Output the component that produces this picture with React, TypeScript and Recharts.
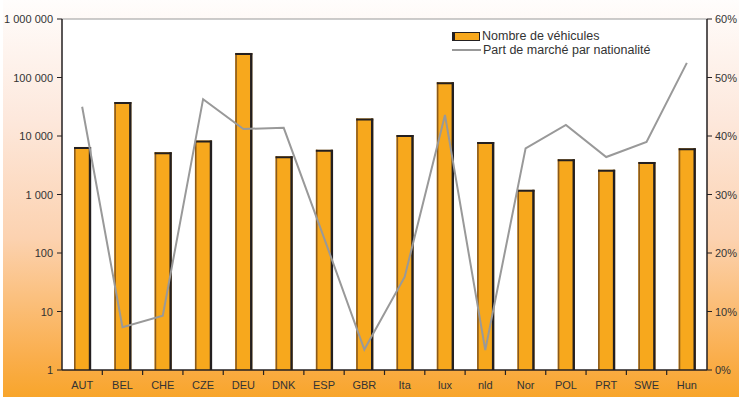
import { ComposedChart, Bar, Line, XAxis, YAxis, CartesianGrid, ReferenceLine } from "recharts";

const countries = ["AUT", "BEL", "CHE", "CZE", "DEU", "DNK", "ESP", "GBR", "Ita", "lux", "nld", "Nor", "POL", "PRT", "SWE", "Hun"];
const vehicles = [6500, 38000, 5300, 8400, 263000, 4500, 5800, 20000, 10400, 83000, 7900, 1200, 4000, 2650, 3600, 6200];
const marketShare = [45, 7.3, 9.3, 46.3, 41.2, 41.4, 22.6, 3.5, 15.9, 43.6, 3.4, 37.9, 41.9, 36.4, 39, 52.5];

const leftTicks = [1, 10, 100, 1000, 10000, 100000, 1000000];
const rightTicks = [0, 10, 20, 30, 40, 50, 60];

const data = countries.map((c, i) => ({ name: c, vehicles: vehicles[i], share: marketShare[i] }));

const W = 739;
const H = 405;
const LEFT = 62;
const RIGHT = 32;
const band = (W - LEFT - RIGHT) / countries.length;
const font = "'Liberation Sans', Arial, sans-serif";
const ink = "#231F20";

const fmtNum = (v: number) => String(v).replace(/\B(?=(\d{3})+(?!\d))/g, " ");

const BarShape = (props: any) => {
    const { x, y, width, height } = props;
    if (!height || height <= 0) return null;
    return (
        <g>
            <rect x={x} y={y} width={width} height={height} fill="#F7A81D" />
            <line x1={x + 0.8} y1={y} x2={x + 0.8} y2={y + height} stroke="#8A5A1C" strokeWidth={1.6} />
            <line x1={x} y1={y + 1} x2={x + width} y2={y + 1} stroke={ink} strokeWidth={2} />
            <line x1={x + width - 1} y1={y} x2={x + width - 1} y2={y + height} stroke={ink} strokeWidth={2.4} />
        </g>
    );
};

const CatTick = (props: any) => {
    const { x, y, payload, index } = props;
    const left = x - band / 2;
    return (
        <g>
            {index > 0 && <line x1={left} y1={y - 8} x2={left} y2={y - 3} stroke={ink} strokeWidth={1.2} />}
            <text x={x} y={y + 11} textAnchor="middle" fontSize={11} fill="#333" fontFamily={font}>{payload.value}</text>
        </g>
    );
};

const LeftTick = (props: any) => {
    const { x, y, payload } = props;
    return (
        <text x={x - 2} y={y + 4} textAnchor="end" fontSize={11} fill="#333" fontFamily={font}>{fmtNum(payload.value)}</text>
    );
};

const RightTick = (props: any) => {
    const { x, y, payload } = props;
    return (
        <text x={x + 1} y={y + 4} textAnchor="start" fontSize={11} fill="#333" fontFamily={font}>{`${payload.value}%`}</text>
    );
};

const LegendBox = () => (
    <div style={{ position: "absolute", left: 452, top: 29, fontFamily: font, fontSize: 12.5, color: "#333", lineHeight: "14px", whiteSpace: "nowrap" }}>
        <div style={{ display: "flex", alignItems: "center", height: 14 }}>
            <span style={{ display: "inline-block", width: 24, height: 7, background: "#F7A81D", border: `1px solid ${ink}`, borderLeftWidth: 3, marginRight: 2 }} />
            Nombre de véhicules
        </div>
        <div style={{ display: "flex", alignItems: "center", height: 14 }}>
            <span style={{ display: "inline-block", width: 29, height: 0, borderTop: "2px solid #999", marginRight: 2 }} />
            Part de marché par nationalité
        </div>
    </div>
);

export default function App() {
    return (
        <div style={{ position: "absolute", left: 0, top: 0, width: W, height: H, background: "#fff" }}>
            <div style={{ position: "absolute", left: 3, top: 0, width: W - 3, height: 397, background: "linear-gradient(to bottom, #fffdfc 0%, #fde8dc 30%, #fcd2b0 60%, #faae4c 90%, #f8a52b 100%)" }} />
            <div style={{ position: "absolute", left: 0, top: 0 }}>
                <ComposedChart width={W} height={H} data={data} margin={{ top: 19, right: 0, left: 0, bottom: 0 }}>
                    <CartesianGrid horizontal={false} vertical={false} fill="#fff" />
                    <XAxis dataKey="name" height={35} axisLine={{ stroke: ink, strokeWidth: 1.5 }} tickLine={false} tick={<CatTick />} interval={0} />
                    <YAxis
                        yAxisId="left"
                        scale="log"
                        domain={[1, 1000000]}
                        ticks={leftTicks}
                        allowDataOverflow
                        width={LEFT}
                        axisLine={{ stroke: ink, strokeWidth: 1.5 }}
                        tickLine={{ stroke: ink }}
                        tickSize={5}
                        tick={<LeftTick />}
                    />
                    <YAxis
                        yAxisId="right"
                        orientation="right"
                        domain={[0, 60]}
                        ticks={rightTicks}
                        width={RIGHT}
                        axisLine={{ stroke: ink, strokeWidth: 1.5 }}
                        tickLine={{ stroke: ink }}
                        tickSize={5}
                        tick={<RightTick />}
                    />
                    <ReferenceLine yAxisId="left" y={1000000} stroke="#999" strokeWidth={1.2} />
                    <Bar yAxisId="left" dataKey="vehicles" barSize={17} shape={<BarShape />} isAnimationActive={false} />
                    <Line yAxisId="right" dataKey="share" stroke="#999" strokeWidth={2} dot={false} activeDot={false} isAnimationActive={false} />
                </ComposedChart>
            </div>
            <LegendBox />
        </div>
    );
}
